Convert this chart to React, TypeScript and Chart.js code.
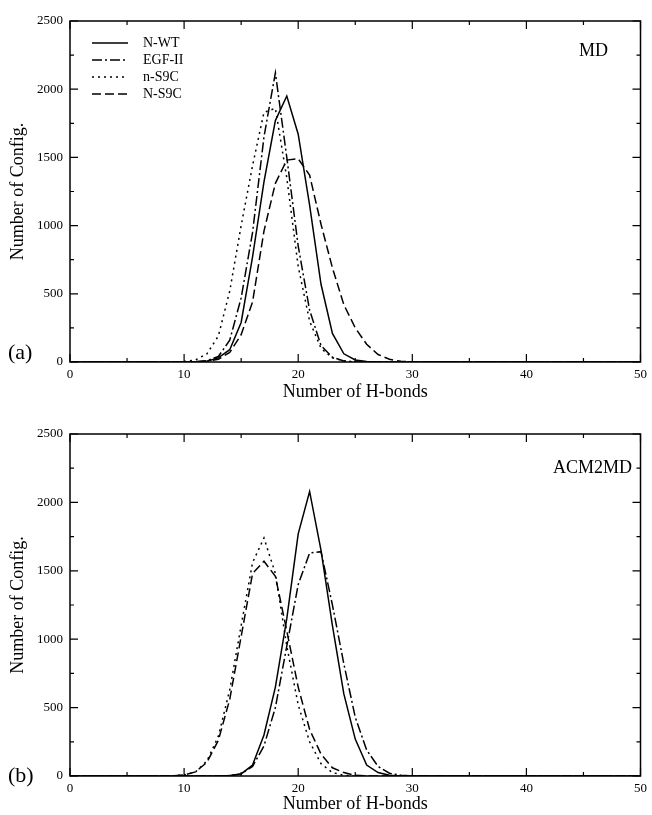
import React, { useEffect, useRef } from "react";
import { Chart, registerables } from "chart.js";

Chart.register(...registerables);

const FONT = "'Liberation Serif', 'Times New Roman', serif";

// Number of H-bonds (x categories)
const hBonds = [
  0, 1, 2, 3, 4, 5, 6, 7, 8, 9, 10, 11, 12, 13, 14, 15, 16, 17, 18, 19, 20,
  21, 22, 23, 24, 25, 26, 27, 28, 29, 30, 31, 32, 33, 34, 35, 36, 37, 38, 39, 40,
  41, 42, 43, 44, 45, 46, 47, 48, 49, 50,
];

const xTicks = [0, 10, 20, 30, 40, 50];
const yTicks = [0, 500, 1000, 1500, 2000, 2500];

const seriesNames = ["N-WT", "EGF-II", "n-S9C", "N-S9C"];

// Panel (a) MD
const mdNWT = [
  0, 0, 0, 0, 0, 0, 0, 0, 0, 0, 0, 0, 5, 30, 90, 290, 770, 1320, 1770, 1950, 1670,
  1150, 570, 210, 60, 15, 3, 0, 0, 0, 0, 0, 0, 0, 0, 0, 0, 0, 0, 0, 0,
  0, 0, 0, 0, 0, 0, 0, 0, 0, 0,
];
const mdEGF = [
  0, 0, 0, 0, 0, 0, 0, 0, 0, 0, 0, 3, 10, 40, 160, 470, 950, 1650, 2120, 1500, 850,
  380, 120, 35, 8, 0, 0, 0, 0, 0, 0, 0, 0, 0, 0, 0, 0, 0, 0, 0, 0,
  0, 0, 0, 0, 0, 0, 0, 0, 0, 0,
];
const mdNS9Csmall = [
  0, 0, 0, 0, 0, 0, 0, 0, 0, 0, 3, 15, 60, 190, 520, 1000, 1440, 1830, 1860, 1350, 700,
  300, 100, 30, 8, 0, 0, 0, 0, 0, 0, 0, 0, 0, 0, 0, 0, 0, 0, 0, 0,
  0, 0, 0, 0, 0, 0, 0, 0, 0, 0,
];
const mdNS9C = [
  0, 0, 0, 0, 0, 0, 0, 0, 0, 0, 0, 0, 5, 20, 70, 200, 440, 960, 1310, 1480, 1490,
  1370, 1010, 690, 420, 250, 130, 55, 20, 5, 0, 0, 0, 0, 0, 0, 0, 0, 0, 0, 0,
  0, 0, 0, 0, 0, 0, 0, 0, 0, 0,
];

// Panel (b) ACM2MD
const acmNWT = [
  0, 0, 0, 0, 0, 0, 0, 0, 0, 0, 0, 0, 0, 0, 3, 15, 80, 300, 650, 1150, 1770,
  2080, 1650, 1100, 600, 270, 80, 25, 5, 0, 0, 0, 0, 0, 0, 0, 0, 0, 0, 0, 0,
  0, 0, 0, 0, 0, 0, 0, 0, 0, 0,
];
const acmEGF = [
  0, 0, 0, 0, 0, 0, 0, 0, 0, 0, 0, 0, 0, 0, 3, 15, 70, 220, 500, 950, 1400,
  1630, 1640, 1250, 820, 430, 190, 70, 20, 5, 0, 0, 0, 0, 0, 0, 0, 0, 0, 0, 0,
  0, 0, 0, 0, 0, 0, 0, 0, 0, 0,
];
const acmNS9Csmall = [
  0, 0, 0, 0, 0, 0, 0, 0, 0, 2, 8, 30, 110, 290, 630, 1100, 1560, 1740, 1480, 950, 520,
  250, 90, 25, 5, 0, 0, 0, 0, 0, 0, 0, 0, 0, 0, 0, 0, 0, 0, 0, 0,
  0, 0, 0, 0, 0, 0, 0, 0, 0, 0,
];
const acmNS9C = [
  0, 0, 0, 0, 0, 0, 0, 0, 0, 2, 8, 30, 100, 260, 560, 1020, 1480, 1570, 1460, 1060, 650,
  340, 160, 60, 25, 5, 0, 0, 0, 0, 0, 0, 0, 0, 0, 0, 0, 0, 0, 0, 0,
  0, 0, 0, 0, 0, 0, 0, 0, 0, 0,
];

const dashes: number[][] = [[], [10, 3, 2, 3], [2, 4], [9, 4]];

type PanelProps = {
  top: number;
  height: number;
  plotTop: number;
  plotBottom: number;
  xTitlePad: number;
  values: number[][];
  tag: string;
  tagY: number;
  label: string;
  labelRight: number;
  labelY: number;
  showLegend: boolean;
};

function Panel(p: PanelProps) {
  const ref = useRef<HTMLCanvasElement | null>(null);
  useEffect(() => {
    const canvas = ref.current;
    if (!canvas) return;
    const frame = {
      id: "frameTicks",
      afterDraw(chart: any) {
        const { ctx, chartArea } = chart;
        const { left, right, top, bottom } = chartArea;
        const xs = chart.scales.x;
        const ys = chart.scales.y;
        ctx.save();
        ctx.strokeStyle = "#000";
        ctx.lineWidth = 1.5;
        ctx.setLineDash([]);
        ctx.strokeRect(left, top, right - left, bottom - top);
        ctx.lineWidth = 1.2;
        ctx.beginPath();
        for (let v = 0; v <= 2500; v += 250) {
          const y = ys.getPixelForValue(v);
          const len = v % 500 === 0 ? 8 : 4;
          ctx.moveTo(left, y);
          ctx.lineTo(left + len, y);
          ctx.moveTo(right, y);
          ctx.lineTo(right - len, y);
        }
        for (let v = 0; v <= 50; v += 5) {
          const x = xs.getPixelForValue(v);
          const len = v % 10 === 0 ? 8 : 4;
          ctx.moveTo(x, bottom);
          ctx.lineTo(x, bottom - len);
          ctx.moveTo(x, top);
          ctx.lineTo(x, top + len);
        }
        ctx.stroke();

        ctx.fillStyle = "#000";
        ctx.font = `22px ${FONT}`;
        ctx.textAlign = "left";
        ctx.textBaseline = "middle";
        ctx.fillText(p.tag, 8, p.tagY);
        ctx.font = `18px ${FONT}`;
        ctx.textAlign = "right";
        ctx.fillText(p.label, p.labelRight, p.labelY);

        if (p.showLegend) {
          ctx.font = `14px ${FONT}`;
          ctx.textAlign = "left";
          chart.data.datasets.forEach((ds: any, i: number) => {
            const y = 43 + i * 17;
            ctx.beginPath();
            ctx.lineWidth = 1.5;
            ctx.setLineDash(ds.borderDash || []);
            ctx.moveTo(92, y);
            ctx.lineTo(128, y);
            ctx.stroke();
            ctx.setLineDash([]);
            ctx.fillText(ds.label, 143, y);
          });
        }
        ctx.restore();
      },
    };

    const chart = new Chart(canvas, {
      type: "line",
      data: {
        datasets: p.values.map((vals, i) => ({
          label: seriesNames[i],
          data: hBonds.map((x, j) => ({ x, y: vals[j] })),
          borderColor: "#000",
          borderWidth: 1.5,
          borderDash: dashes[i],
          pointRadius: 0,
          fill: false,
          tension: 0,
        })),
      },
      options: {
        animation: false,
        responsive: false,
        devicePixelRatio: 1,
        layout: { padding: { top: p.plotTop, right: 6, left: 0, bottom: 0 } },
        plugins: { legend: { display: false }, tooltip: { enabled: false } },
        scales: {
          x: {
            type: "linear",
            min: 0,
            max: 50,
            afterBuildTicks: (s: any) => {
              s.ticks = xTicks.map((v) => ({ value: v }));
            },
            ticks: {
              color: "#000",
              font: { family: FONT, size: 13 },
              padding: 5,
              maxRotation: 0,
              callback: (v: any) => String(v),
            },
            grid: { display: false, drawTicks: false },
            border: { display: false },
            title: {
              display: true,
              text: "Number of H-bonds",
              color: "#000",
              font: { family: FONT, size: 18 },
              padding: { top: 0, bottom: p.xTitlePad },
            },
            afterFit: (s: any) => {
              s.height = p.height - p.plotBottom;
            },
          },
          y: {
            min: 0,
            max: 2500,
            afterBuildTicks: (s: any) => {
              s.ticks = yTicks.map((v) => ({ value: v }));
            },
            ticks: {
              color: "#000",
              font: { family: FONT, size: 13 },
              padding: 7,
              callback: (v: any) => String(v),
            },
            grid: { display: false, drawTicks: false },
            border: { display: false },
            title: {
              display: true,
              text: "Number of Config.",
              color: "#000",
              font: { family: FONT, size: 18 },
              padding: { top: 7, bottom: 0 },
            },
            afterFit: (s: any) => {
              s.width = 70;
            },
          },
        },
      },
      plugins: [frame],
    } as any);
    return () => chart.destroy();
  }, []);

  return (
    <canvas
      ref={ref}
      width={652}
      height={p.height}
      style={{ position: "absolute", left: 0, top: p.top, display: "block" }}
    />
  );
}

export default function App() {
  return (
    <div
      style={{
        position: "absolute",
        left: 0,
        top: 0,
        width: 652,
        height: 815,
        background: "#fff",
      }}
    >
      <Panel
        top={0}
        height={410}
        plotTop={21}
        plotBottom={362}
        xTitlePad={7}
        values={[mdNWT, mdEGF, mdNS9Csmall, mdNS9C]}
        tag="(a)"
        tagY={353}
        label="MD"
        labelRight={608}
        labelY={51}
        showLegend={true}
      />
      <Panel
        top={410}
        height={405}
        plotTop={24}
        plotBottom={366}
        xTitlePad={0}
        values={[acmNWT, acmEGF, acmNS9Csmall, acmNS9C]}
        tag="(b)"
        tagY={366}
        label="ACM2MD"
        labelRight={632}
        labelY={58}
        showLegend={false}
      />
    </div>
  );
}
